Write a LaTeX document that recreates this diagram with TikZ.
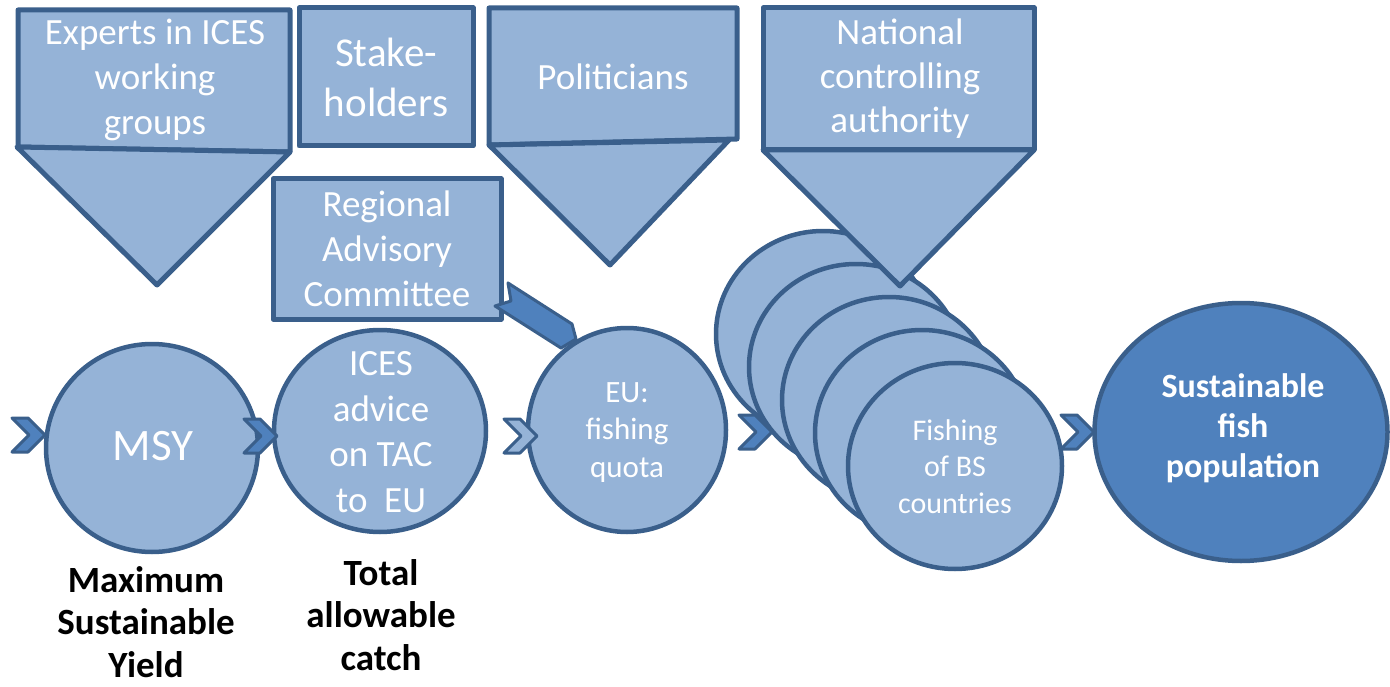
\documentclass[tikz,border=0pt]{standalone}
\usepackage{fontspec}
\setmainfont{Carlito}
\usetikzlibrary{shapes.geometric}
\definecolor{lf}{HTML}{95B3D7}
\definecolor{bd}{HTML}{3A5F8B}
\definecolor{df}{HTML}{4F81BD}
\newcommand\myfs[2]{\fontsize{#1pt}{#2pt}\selectfont}
\tikzset{
  box/.style={fill=lf, draw=bd, line width=5pt},
  rbox/.style={rectangle, fill=lf, draw=bd, line width=5pt, inner sep=0pt},
  circ/.style={ellipse, fill=lf, draw=bd, line width=4.5pt, inner sep=0pt},
  wtxt/.style={text=white, align=center, inner sep=0pt},
  btxt/.style={text=black, align=center, inner sep=0pt, anchor=base, font=\myfs{37}{42.5}\bfseries},
  chevron/.pic={\path[pic actions] (-16,-17) -- (0,-17) -- (17,0) -- (0,17) -- (-16,17) -- (1,0) -- cycle;},
  chev/.style={fill=df, draw=bd, line width=3pt},
}
\begin{document}
\begin{tikzpicture}[x=1pt,y=-1pt,line join=round]
\useasboundingbox (0,0) rectangle (1390,687);

% --- callout: Experts
\draw[box] (18,10) -- (290,10) -- (290,152) -- (18,147) -- cycle;
\draw[box] (17,147) -- (290,152) -- (157,285) -- cycle;
\node[wtxt, anchor=base, font=\myfs{37}{45}] (exp) at (155,135) {Experts in ICES\\working\\groups};

% --- Stakeholders
\node[rbox, minimum width=174pt, minimum height=138pt, text=white, align=center, font=\myfs{41}{50}] (stk) at (386,77) {Stake-\\holders};

% --- callout: Politicians
\draw[box] (489,8) -- (737,8) -- (737,139) -- (489,145) -- cycle;
\draw[box] (489,145) -- (729,140) -- (610,265) -- cycle;
\node[wtxt, anchor=base, font=\myfs{37}{45}] (pol) at (613,90) {Politicians};

% --- Regional Advisory Committee
\node[rbox, minimum width=228pt, minimum height=140pt, text=white, align=center, font=\myfs{37}{45}] (rac) at (387,249) {Regional\\Advisory\\Committee};

% --- block arrow RAC -> EU
\draw[fill=df, draw=bd, line width=3pt] (508,283) -- (572,324) -- (576,339) -- (561,348) -- (495,306) -- (511,301) -- cycle;

% --- circles
\node[circ, minimum width=212pt, minimum height=208pt] (msy) at (152,448) {};
\node[wtxt, font=\myfs{45}{54}] (msyt) at (153,446) {MSY};

\node[circ, minimum width=212pt, minimum height=202pt] (ices) at (380,431) {};
\node[wtxt, anchor=base, font=\myfs{37}{45.5}] (icest) at (381,512) {ICES\\advice\\on TAC\\to\ \ EU};

\node[circ, minimum width=198pt, minimum height=204pt] (eu) at (627,430) {};
\node[wtxt, anchor=base, font=\myfs{31}{37.5}] (eut) at (627,477) {EU:\\fishing\\quota};

\foreach \k/\n in {4/st1,3/st2,2/st3,1/st4,0/st5}{
  \node[circ, minimum width=214pt, minimum height=206pt] (\n) at ({955-33*\k},{466-33*\k}) {};
}
\node[wtxt, anchor=base, font=\myfs{30}{36.5}] (fish) at (955,513) {Fishing\\of BS\\countries};

% --- callout: National controlling authority (over the stack)
\draw[box] (763,8) -- (1034,8) -- (1034,150) -- (763,150) -- cycle;
\draw[box] (763,150) -- (1034,150) -- (900,286) -- cycle;
\node[wtxt, anchor=base, font=\myfs{37}{44}] (nat) at (900,133) {National\\controlling\\authority};

% --- Sustainable fish population
\node[ellipse, fill=df, draw=bd, line width=4.5pt, inner sep=0pt, minimum width=293pt, minimum height=258pt] (sfp) at (1241,432) {};
\node[wtxt, anchor=base, font=\myfs{34}{40}\bfseries] (sfpt) at (1243,477) {Sustainable\\fish\\population};

% --- chevrons
\pic[chev] at (28,435) {chevron};
\pic[chev] at (260,436) {chevron};
\pic[chev, fill=lf] at (520,436) {chevron};
\pic[chev] at (755,432) {chevron};
\pic[chev] at (1077,432) {chevron};

% --- bottom labels
\node[btxt] (msyl) at (146,677) {Maximum\\Sustainable\\Yield};
\node[btxt] (tacl) at (381,670) {Total\\allowable\\catch};
\end{tikzpicture}
\end{document}
